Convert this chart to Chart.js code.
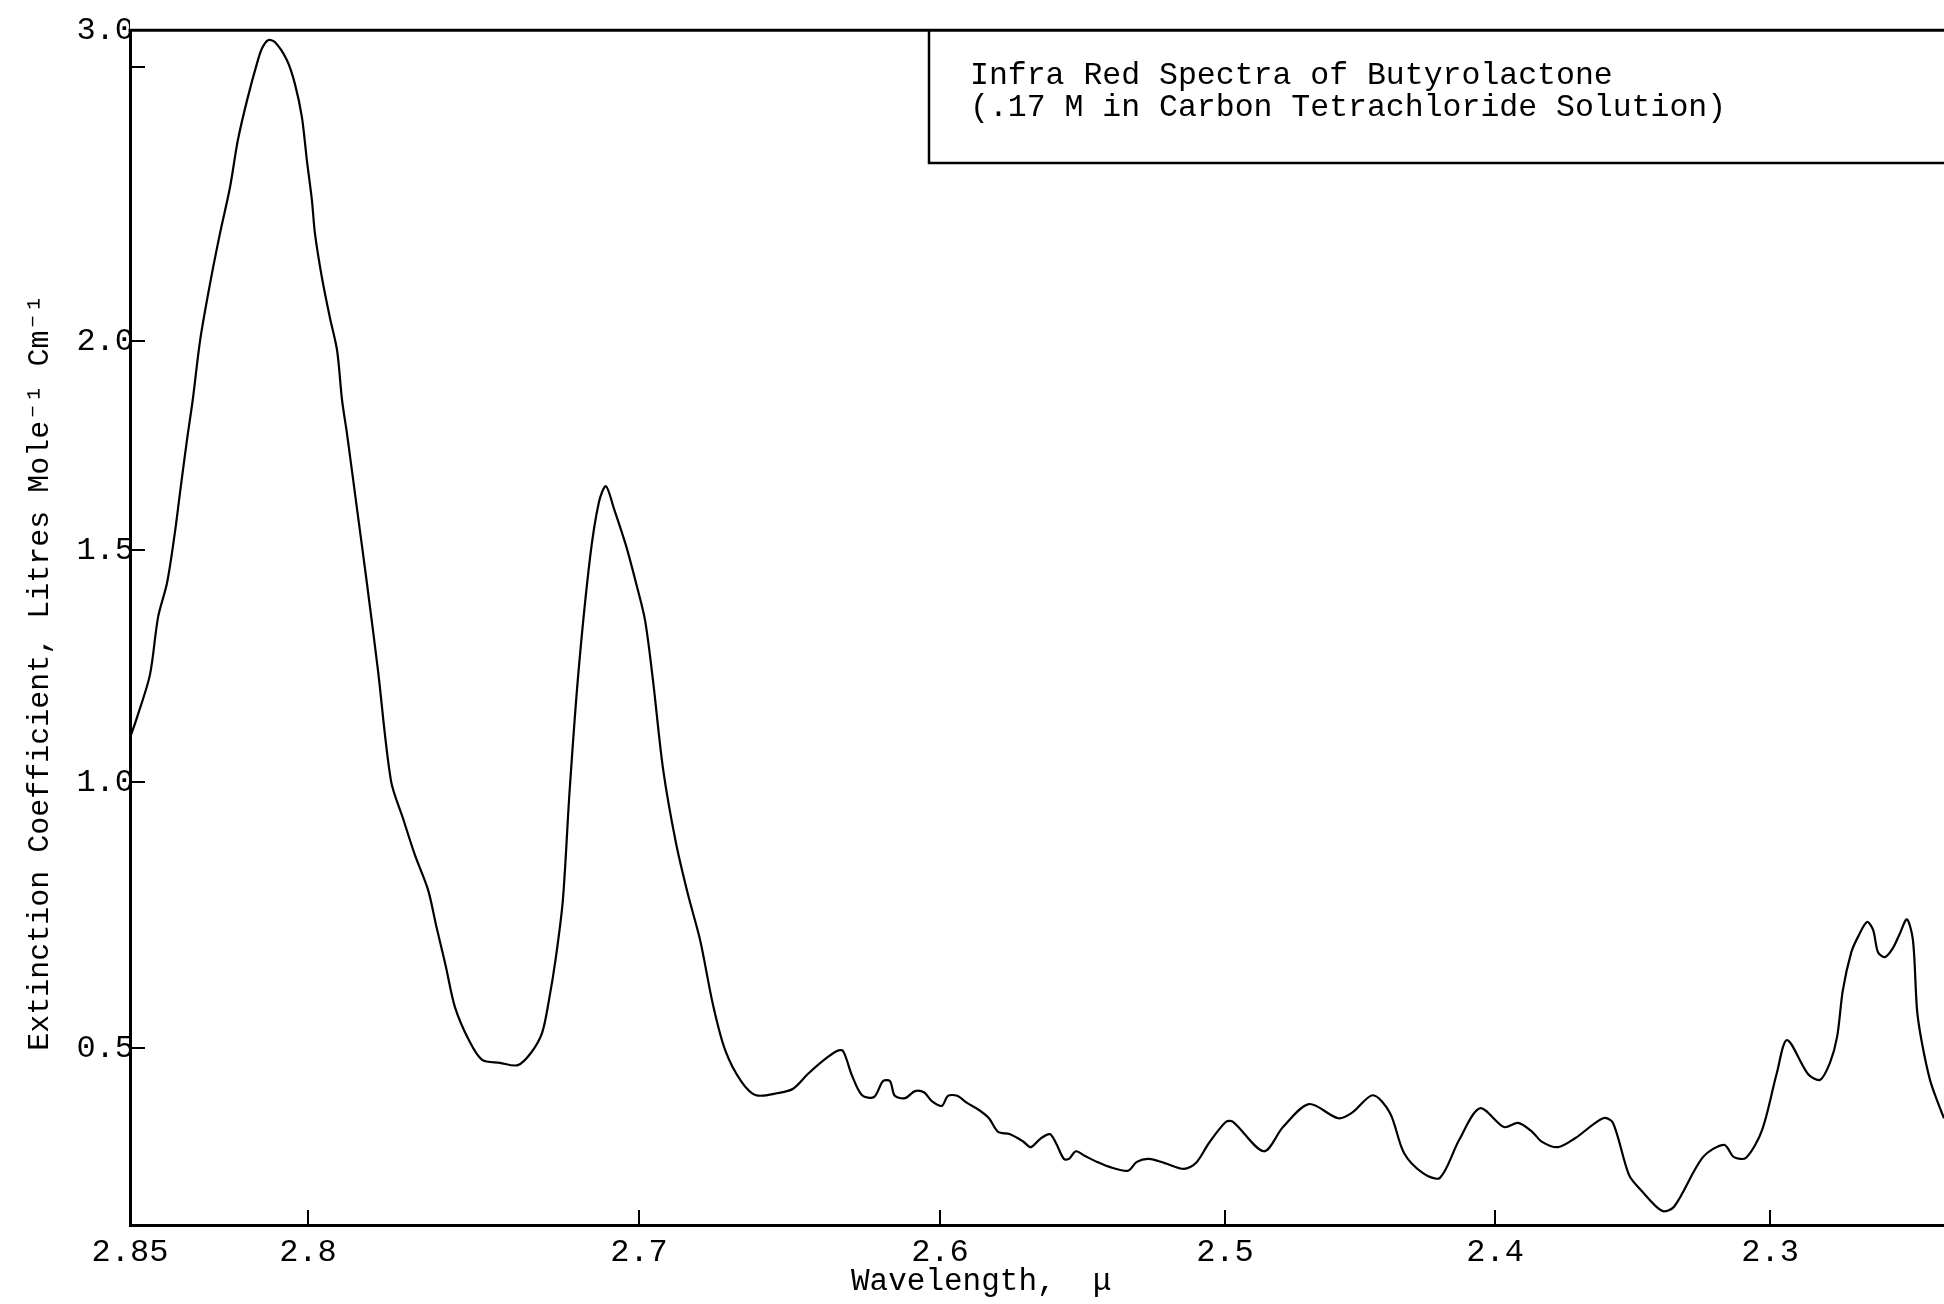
<!DOCTYPE html>
<html lang="en">
<head>
    <meta charset="UTF-8">
    <title>Infra Red Spectra of Butyrolactone</title>
    <script src="https://cdn.jsdelivr.net/npm/chart.js"></script>
    <style>
        html, body { margin: 0; padding: 0; background: #fff; }
        #chart { display: block; }
    </style>
</head>
<body>
    <canvas id="chart" width="1944" height="1304"></canvas>
    <script>
        // Wavelength in microns (ascending) and extinction coefficient
        const wavelengths = [
            2.2367, 2.2393, 2.2418, 2.2447, 2.2465, 2.2480, 2.2502, 2.2527, 2.2553, 2.2582,
            2.2607, 2.2625, 2.2647, 2.2680, 2.2705, 2.2735, 2.2756, 2.2782, 2.2818, 2.2862,
            2.2938, 2.2975, 2.3029, 2.3087, 2.3131, 2.3167, 2.3244, 2.3349, 2.3393, 2.3469,
            2.3513, 2.3571, 2.3607, 2.3709, 2.3771, 2.3829, 2.3865, 2.3916, 2.3967, 2.4056,
            2.4133, 2.4204, 2.4267, 2.4337, 2.4389, 2.4452, 2.4530, 2.4581, 2.4689, 2.4785,
            2.4856, 2.4970, 2.4996, 2.5056, 2.5102, 2.5144, 2.5211, 2.5267, 2.5309, 2.5340,
            2.5396, 2.5449, 2.5491, 2.5523, 2.5547, 2.5565, 2.5593, 2.5614, 2.5646, 2.5681,
            2.5709, 2.5754, 2.5796, 2.5828, 2.5863, 2.5905, 2.5940, 2.5972, 2.5993, 2.6027,
            2.6053, 2.6083, 2.6116, 2.6150, 2.6166, 2.6189, 2.6219, 2.6259, 2.6292, 2.6322,
            2.6342, 2.6385, 2.6439, 2.6488, 2.6535, 2.6611, 2.6661, 2.6714, 2.6754, 2.6797,
            2.6837, 2.6877, 2.6920, 2.6953, 2.6980, 2.7009, 2.7039, 2.7076, 2.7100, 2.7121,
            2.7148, 2.7184, 2.7210, 2.7230, 2.7251, 2.7272, 2.7293, 2.7326, 2.7366, 2.7420,
            2.7474, 2.7514, 2.7556, 2.7583, 2.7595, 2.7613, 2.7637, 2.7677, 2.7713, 2.7749,
            2.7789, 2.7822, 2.7852, 2.7882, 2.7897, 2.7912, 2.7934, 2.7958, 2.7979, 2.7988,
            2.8003, 2.8017, 2.8037, 2.8059, 2.8093, 2.8112, 2.8129, 2.8143, 2.8171, 2.8197,
            2.8219, 2.8247, 2.8275, 2.8303, 2.8323, 2.8340, 2.8360, 2.8374, 2.8396, 2.8421,
            2.8444, 2.8480, 2.8500
        ];
        const extinction = [
            0.381, 0.412, 0.446, 0.509, 0.571, 0.703, 0.742, 0.716, 0.688, 0.671,
            0.680, 0.722, 0.737, 0.709, 0.679, 0.609, 0.521, 0.475, 0.446, 0.456,
            0.515, 0.458, 0.361, 0.314, 0.315, 0.336, 0.315, 0.231, 0.224, 0.259,
            0.285, 0.373, 0.381, 0.347, 0.332, 0.341, 0.358, 0.373, 0.366, 0.398,
            0.344, 0.280, 0.288, 0.322, 0.390, 0.420, 0.390, 0.381, 0.405, 0.366,
            0.325, 0.375, 0.375, 0.339, 0.305, 0.295, 0.305, 0.312, 0.307, 0.292,
            0.297, 0.307, 0.317, 0.325, 0.312, 0.312, 0.339, 0.354, 0.347, 0.332,
            0.342, 0.354, 0.358, 0.381, 0.395, 0.407, 0.419, 0.419, 0.402, 0.410,
            0.425, 0.427, 0.415, 0.419, 0.444, 0.444, 0.417, 0.420, 0.453, 0.495,
            0.495, 0.480, 0.456, 0.431, 0.424, 0.420, 0.444, 0.497, 0.581, 0.703,
            0.788, 0.885, 1.028, 1.216, 1.349, 1.429, 1.510, 1.600, 1.653, 1.615,
            1.483, 1.228, 0.980, 0.778, 0.671, 0.590, 0.528, 0.492, 0.471, 0.475,
            0.480, 0.515, 0.577, 0.652, 0.684, 0.731, 0.797, 0.863, 0.932, 1.002,
            1.244, 1.429, 1.600, 1.778, 1.859, 1.978, 2.079, 2.210, 2.355, 2.463,
            2.594, 2.736, 2.847, 2.919, 2.968, 2.973, 2.951, 2.911, 2.792, 2.660,
            2.506, 2.355, 2.190, 2.003, 1.864, 1.763, 1.634, 1.541, 1.429, 1.356,
            1.231, 1.140, 1.095
        ];

        const xTicks = [2.85, 2.8, 2.7, 2.6, 2.5, 2.4, 2.3];
        const xTickLabels = ['2.85', '2.8', '2.7', '2.6', '2.5', '2.4', '2.3'];
        const yTicks = [3.0, 2.9, 2.0, 1.5, 1.0, 0.5];
        const yTickLabels = ['3.0', '', '2.0', '1.5', '1.0', '0.5'];

        // The chart paper is not linear: calibration of each axis as [value, fraction of axis]
        // (x measured from the left edge, y measured from the top edge)
        const calibration = {
            x: [[2.85, 0], [2.8, 0.0981], [2.7, 0.2806], [2.6, 0.4465], [2.5, 0.6036],
                [2.4, 0.7525], [2.3, 0.9041], [2.2367, 1]],
            y: [[3.0, 0], [2.9, 0.0310], [2.0, 0.2603], [1.5, 0.4351], [1.0, 0.6293],
                [0.5, 0.8519], [0.2, 1]]
        };

        class CalibratedScale extends Chart.LinearScale {
            static id = 'calibrated';
            static defaults = {};

            knots() {
                return calibration[this.id];
            }
            determineDataLimits() {
                const vals = this.knots().map(k => k[0]);
                this.min = Math.min(...vals);
                this.max = Math.max(...vals);
            }
            buildTicks() {
                return (this.id === 'x' ? xTicks : yTicks).map(v => ({ value: v }));
            }
            fraction(v) {
                const k = this.knots();
                let i = 0;
                while (i < k.length - 2 && v < k[i + 1][0]) i++;
                const [v0, f0] = k[i];
                const [v1, f1] = k[i + 1];
                return f0 + (v - v0) / (v1 - v0) * (f1 - f0);
            }
            getPixelForValue(v) {
                if (v === null || v === undefined || isNaN(v)) return NaN;
                const f = this.fraction(v);
                return this.isHorizontal() ? this.left + f * this.width : this.top + f * this.height;
            }
            getValueForPixel(p) {
                const k = this.knots();
                const f = this.isHorizontal() ? (p - this.left) / this.width : (p - this.top) / this.height;
                let i = 0;
                while (i < k.length - 2 && f > k[i + 1][1]) i++;
                const [v0, f0] = k[i];
                const [v1, f1] = k[i + 1];
                return v0 + (f - f0) / (f1 - f0) * (v1 - v0);
            }
        }
        Chart.register(CalibratedScale);

        const typeFont = "'Liberation Mono', 'Courier New', monospace";

        // top border of the plot and the boxed caption
        const framePlugin = {
            id: 'frame',
            afterDraw(chart) {
                const { ctx, chartArea: a } = chart;
                ctx.save();
                ctx.strokeStyle = '#000';
                ctx.lineWidth = 3;
                ctx.beginPath();
                ctx.moveTo(a.left - 1.5, a.top);
                ctx.lineTo(a.right, a.top);
                ctx.stroke();

                ctx.lineWidth = 2.5;
                ctx.beginPath();
                ctx.moveTo(929, a.top);
                ctx.lineTo(929, 163);
                ctx.lineTo(a.right, 163);
                ctx.stroke();

                ctx.fillStyle = '#000';
                ctx.font = '31.5px ' + typeFont;
                ctx.textBaseline = 'alphabetic';
                ctx.fillText('Infra Red Spectra of Butyrolactone', 970, 84);
                ctx.fillText('(.17 M in Carbon Tetrachloride Solution)', 970, 116);
                ctx.restore();
            }
        };

        new Chart(document.getElementById('chart'), {
            type: 'line',
            data: {
                datasets: [{
                    data: wavelengths.map((w, i) => ({ x: w, y: extinction[i] })),
                    borderColor: '#000',
                    borderWidth: 2.2,
                    pointRadius: 0,
                    tension: 0.3,
                    fill: false
                }]
            },
            options: {
                responsive: false,
                animation: false,
                devicePixelRatio: 1,
                events: [],
                layout: { padding: { top: 30, right: 0, bottom: 0, left: 0 } },
                plugins: {
                    legend: { display: false },
                    tooltip: { enabled: false }
                },
                scales: {
                    x: {
                        type: 'calibrated',
                        position: 'bottom',
                        border: { display: true, color: '#000', width: 3 },
                        grid: { drawOnChartArea: false, drawTicks: true, tickLength: -15, color: '#000', lineWidth: 2 },
                        ticks: {
                            autoSkip: false, maxRotation: 0, minRotation: 0, padding: 23,
                            color: '#000', font: { family: typeFont, size: 32 },
                            callback: (v, i) => xTickLabels[i]
                        },
                        title: {
                            display: true, text: 'Wavelength,  \u03bc      ', color: '#000',
                            font: { family: typeFont, size: 31 }, padding: { top: 0, bottom: 4 }
                        },
                        afterFit: (s) => { s.height = 79; }
                    },
                    y: {
                        type: 'calibrated',
                        position: 'left',
                        border: { display: true, color: '#000', width: 3 },
                        grid: { drawOnChartArea: false, drawTicks: true, tickLength: -15, color: '#000', lineWidth: 2 },
                        ticks: {
                            autoSkip: false, padding: 11,
                            color: '#000', font: { family: typeFont, size: 32 },
                            callback: (v, i) => yTickLabels[i]
                        },
                        title: {
                            display: true, text: 'Extinction Coefficient, Litres Mole\u207b\u00b9 Cm\u207b\u00b9     ',
                            color: '#000', font: { family: typeFont, size: 30 }, padding: { top: 22, bottom: 0 }
                        },
                        afterFit: (s) => { s.width = 130; }
                    }
                }
            },
            plugins: [framePlugin]
        });
    </script>
</body>
</html>
